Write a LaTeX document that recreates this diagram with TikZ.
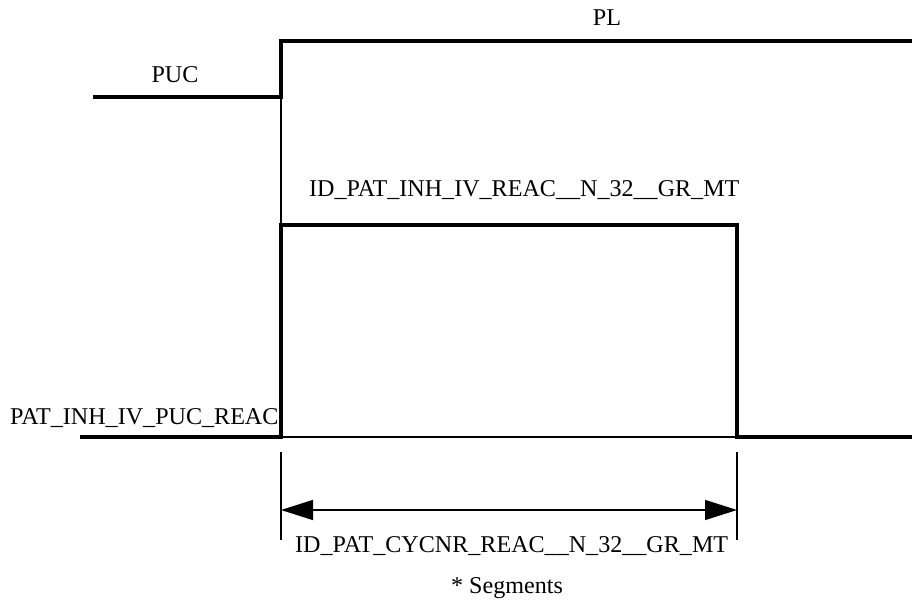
\documentclass[tikz,border=0pt]{standalone}
\usepackage{fontspec}
\setmainfont{Liberation Serif}
\usetikzlibrary{arrows.meta}
\begin{document}
\begin{tikzpicture}[x=1pt,y=-1pt,
  sig/.style={line width=4pt,line join=miter,line cap=rect},
  thin/.style={line width=1.4pt},
  lbl/.style={inner sep=0pt,font=\fontsize{24.1}{28}\selectfont},
  dim/.style={line width=1.5pt,{Triangle[length=32pt,width=20pt]}-{Triangle[length=32pt,width=20pt]}}]
\useasboundingbox (0,0) rectangle (912,601);
% PUC / PL signal
\coordinate (a0) at (95,97);
\coordinate (a1) at (281,97);
\coordinate (a2) at (281,41);
\coordinate (a3) at (912,41);
\draw[sig] (a0) -- (a1) -- (a2) -- (a3);
% pulse signal
\coordinate (b0) at (82,437);
\coordinate (b1) at (281,437);
\coordinate (b2) at (281,225);
\coordinate (b3) at (737,225);
\coordinate (b4) at (737,437);
\coordinate (b5) at (912,437);
\draw[sig] (b0) -- (b1) -- (b2) -- (b3) -- (b4) -- (b5);
% thin guides
\draw[thin] (a1) -- (b2);
\draw[thin] (b1) -- (b4);
% dimension
\coordinate (t1a) at (281,452);
\coordinate (t1b) at (281,540);
\coordinate (t2a) at (737,452);
\coordinate (t2b) at (737,540);
\draw[thin] (t1a) -- (t1b);
\draw[thin] (t2a) -- (t2b);
\coordinate (d1) at (281,510);
\coordinate (d2) at (737,510);
\draw[dim] (d1) -- (d2);
% labels
\node[lbl,anchor=base] (pl) at (607,26) {PL};
\node[lbl,anchor=base] (puc) at (175,83) {PUC};
\node[lbl,anchor=base west] (idinh) at (309,197) {ID\_PAT\_INH\_IV\_REAC\_\_N\_32\_\_GR\_MT};
\node[lbl,anchor=base west] (patinh) at (10,424) {PAT\_INH\_IV\_PUC\_REAC};
\node[lbl,anchor=base west] (cyc) at (295,552) {ID\_PAT\_CYCNR\_REAC\_\_N\_32\_\_GR\_MT};
\node[lbl,anchor=base] (seg) at (507,593) {* Segments};
\end{tikzpicture}
\end{document}
